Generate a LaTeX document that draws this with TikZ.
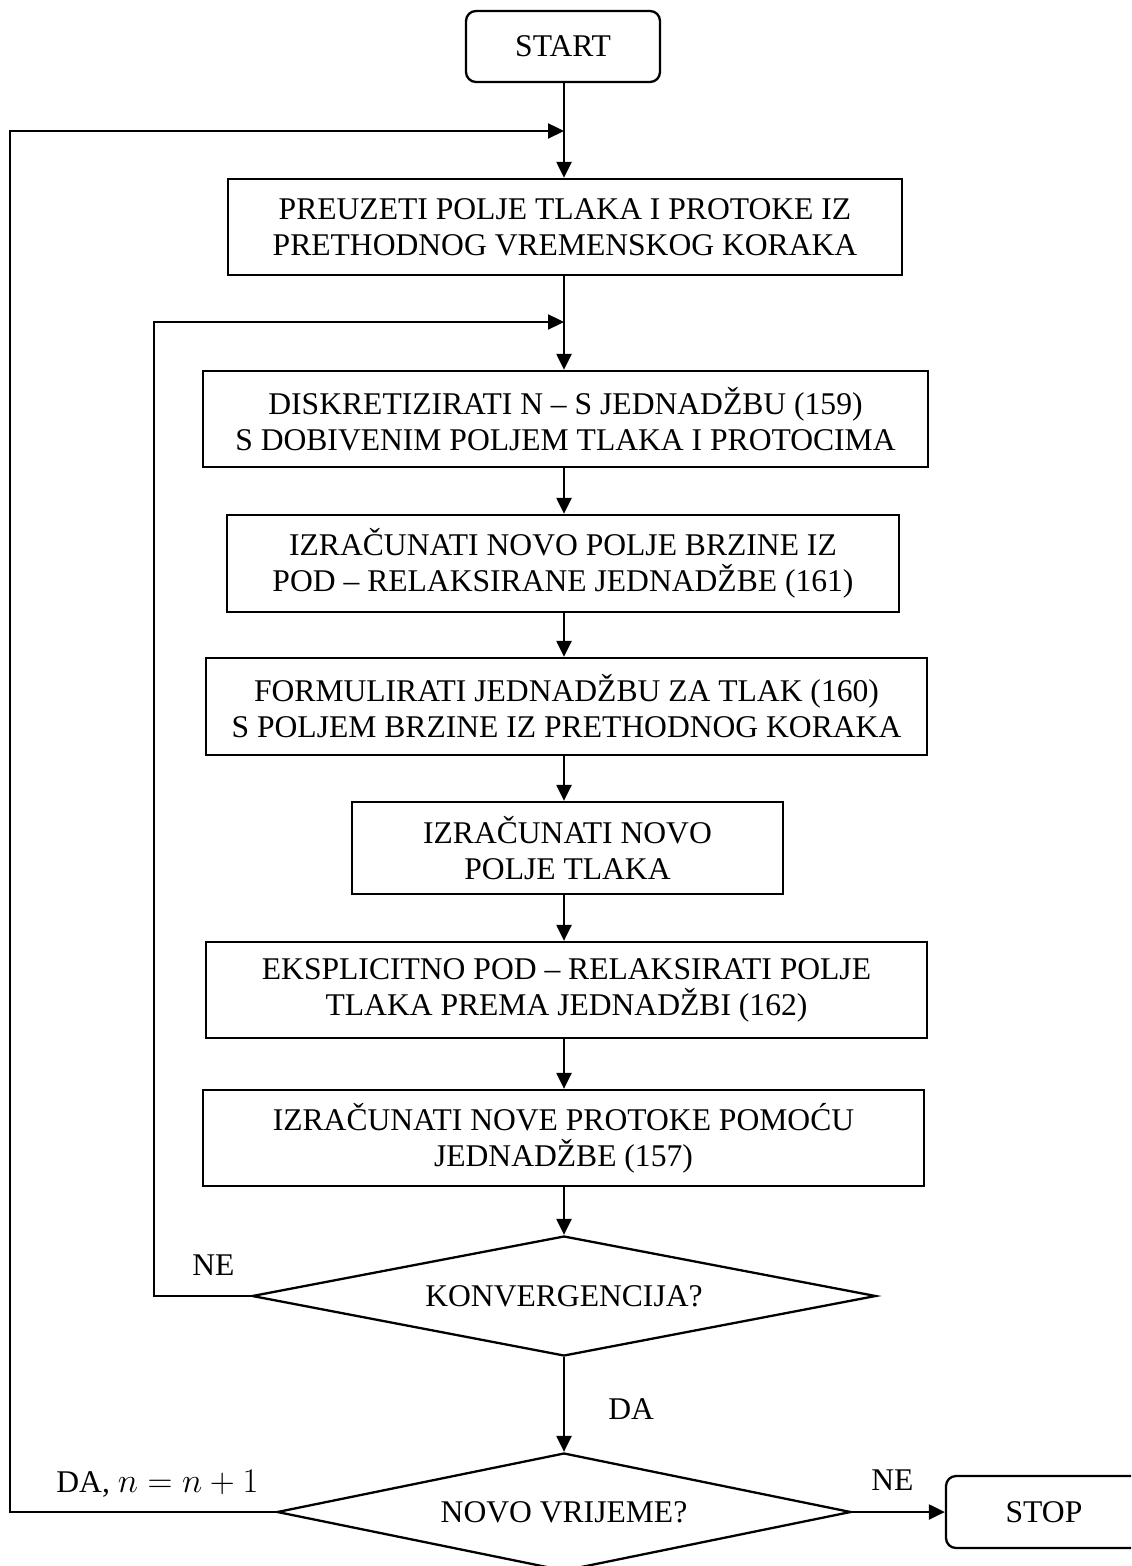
\documentclass[tikz,border=0pt]{standalone}
\usepackage{fontspec}
\setmainfont{Liberation Serif}
\usetikzlibrary{shapes.geometric,arrows.meta}
\begin{document}
\begin{tikzpicture}[x=0.5pt,y=-0.5pt,
  every node/.style={font=\fontsize{15.8}{18}\selectfont},
  proc/.style={draw,line width=1.15pt,rectangle,align=center,inner sep=0pt},
  term/.style={proc,rounded corners=5pt},
  dec/.style={draw,line width=1.15pt,diamond,aspect=5.2,inner sep=0pt,align=center},
  arr/.style={line width=1.15pt,-{Triangle[length=8pt,width=7.5pt]}},
  lbl/.style={inner sep=0pt,anchor=base west}]
\clip (0,0) rectangle (1131,1566);
\coordinate (X) at (564,0);
\node[term,minimum width=97pt,minimum height=35.5pt] (start) at (563,46.5) {START};
\node[proc,minimum width=337pt,minimum height=48pt] (b1) at (565,227) {PREUZETI POLJE TLAKA I PROTOKE IZ\\PRETHODNOG VREMENSKOG KORAKA};
\node[proc,minimum width=362.5pt,minimum height=48pt] (b2) at (565.5,419) {DISKRETIZIRATI N – S JEDNADŽBU (159)\\S DOBIVENIM POLJEM TLAKA I PROTOCIMA};
\node[proc,minimum width=336pt,minimum height=48.5pt] (b3) at (563,563.5) {IZRAČUNATI NOVO POLJE BRZINE IZ\\POD – RELAKSIRANE JEDNADŽBE (161)};
\node[proc,minimum width=360.5pt,minimum height=48.5pt] (b4) at (566.5,706.5) {FORMULIRATI JEDNADŽBU ZA TLAK (160)\\S POLJEM BRZINE IZ PRETHODNOG KORAKA};
\node[proc,minimum width=215.5pt,minimum height=46pt] (b5) at (567.5,848) {IZRAČUNATI NOVO\\POLJE TLAKA};
\node[proc,minimum width=360.5pt,minimum height=48pt] (b6) at (566.5,990) {EKSPLICITNO POD – RELAKSIRATI POLJE\\TLAKA PREMA JEDNADŽBI (162)};
\node[proc,minimum width=360.5pt,minimum height=48pt] (b7) at (563.5,1138) {IZRAČUNATI NOVE PROTOKE POMOĆU\\JEDNADŽBE (157)};
\node[dec,minimum width=312pt,minimum height=60pt] (d1) at (564,1296) {KONVERGENCIJA?};
\node[dec,minimum width=287pt,minimum height=59pt] (d2) at (564,1512) {NOVO VRIJEME?};
\node[term,minimum width=98pt,minimum height=36pt] (stop) at (1044,1512) {STOP};
% labels
\node[lbl] (ne1) at (192,1275) {NE};
\node[lbl] (da1) at (608,1419) {DA};
\node[lbl] (da2) at (56,1492) {DA, {\fontsize{17.2}{18}\selectfont$n = n + 1$}};
\node[lbl] (ne2) at (871,1490) {NE};
% main flow
\draw[arr] (start.south -| X) -- (b1.north -| X);
\draw[arr] (b1.south -| X) -- (b2.north -| X);
\draw[arr] (b2.south -| X) -- (b3.north -| X);
\draw[arr] (b3.south -| X) -- (b4.north -| X);
\draw[arr] (b4.south -| X) -- (b5.north -| X);
\draw[arr] (b5.south -| X) -- (b6.north -| X);
\draw[arr] (b6.south -| X) -- (b7.north -| X);
\draw[arr] (b7.south -| X) -- (d1.north);
\draw[arr] (d1.south) -- (d2.north);
\draw[arr] (d2.east) -- (stop.west);
% loops
\coordinate (l1a) at (10,1512);
\coordinate (l1b) at (10,131);
\coordinate (l1c) at (564,131);
\draw[arr] (d2.west) -- (l1a) -- (l1b) -- (l1c);
\coordinate (l2a) at (154,1296);
\coordinate (l2b) at (154,322);
\coordinate (l2c) at (564,322);
\draw[arr] (d1.west) -- (l2a) -- (l2b) -- (l2c);
\end{tikzpicture}
\end{document}
